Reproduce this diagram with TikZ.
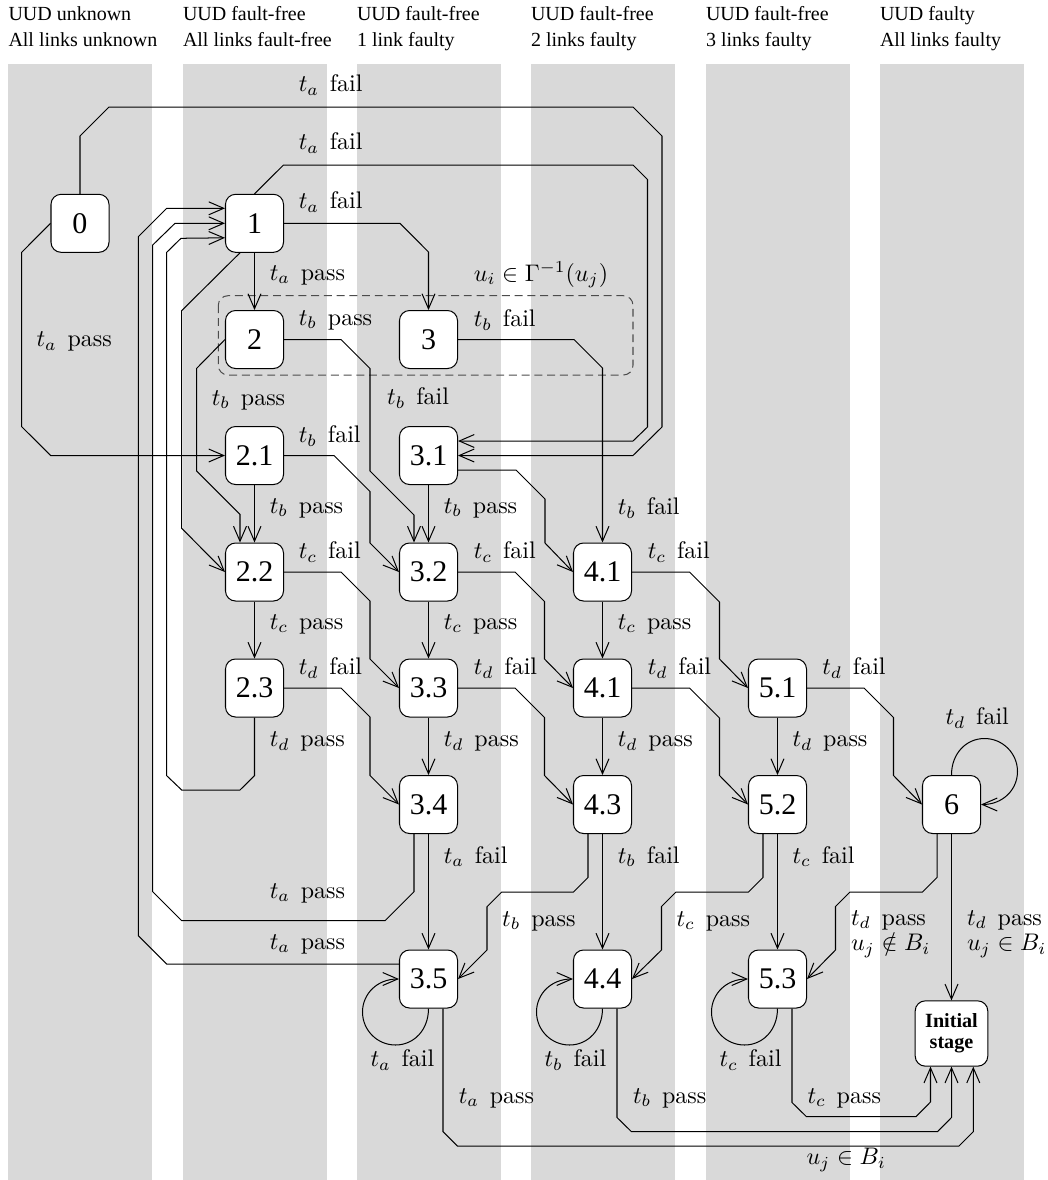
\documentclass[tikz,border=0pt]{standalone}
\usepackage{fontspec}
\newfontfamily\timesf{Liberation Serif}
\usetikzlibrary{arrows.meta,calc}
\newcommand\el[2]{$t_{#1}$\hspace{0.45em}#2}
\begin{document}
\begin{tikzpicture}[x=0.41667pt,y=-0.41667pt,line width=0.42pt,
  st/.style={draw,fill=white,rounded corners=4.2pt,minimum width=24.17pt,minimum height=24.17pt,inner sep=0pt,font=\timesf\fontsize{12.5}{15}\selectfont},
  lbl/.style={anchor=west,inner sep=0pt,font=\fontsize{10}{12}\selectfont},
  lbltwo/.style={anchor=west,inner sep=0pt,align=left,font=\fontsize{10}{10.8}\selectfont},
  hdr/.style={anchor=base west,inner sep=0pt,font=\timesf\fontsize{8.33}{10}\selectfont},
  arr/.style={-{Straight Barb[length=6.25pt,width=5.4pt]}},
  grp/.style={draw=black!70,dash pattern=on 3.3pt off 2pt,rounded corners=4pt}]
\useasboundingbox (0,0) rectangle (1048,1180);
\foreach \c in {80,254.5,428.5,602.5,777.5,951.5}
  \fill[black!15] (\c-72,64) rectangle (\c+72,1180);
% headers
\node[hdr] (h1a) at (8,20.5) {UUD unknown};
\node[hdr] (h1b) at (8,46.5) {All links unknown};
\node[hdr] (h2a) at (182.5,20.5) {UUD fault-free};
\node[hdr] (h2b) at (182.5,46.5) {All links fault-free};
\node[hdr] (h3a) at (356.5,20.5) {UUD fault-free};
\node[hdr] (h3b) at (356.5,46.5) {1 link faulty};
\node[hdr] (h4a) at (530.5,20.5) {UUD fault-free};
\node[hdr] (h4b) at (530.5,46.5) {2 links faulty};
\node[hdr] (h5a) at (705.5,20.5) {UUD fault-free};
\node[hdr] (h5b) at (705.5,46.5) {3 links faulty};
\node[hdr] (h6a) at (879.5,20.5) {UUD faulty};
\node[hdr] (h6b) at (879.5,46.5) {All links faulty};
% group box
\draw[grp] (218.3,295.7) rectangle (633,375);
% states
\node[st] (n0) at (80,223.3) {0};
\node[st] (n1) at (254.5,223.3) {1};
\node[st] (n2) at (254.5,339.5) {2};
\node[st] (n3) at (428.5,339.5) {3};
\node[st] (n21) at (254.5,455.5) {2.1};
\node[st] (n31) at (428.5,455.5) {3.1};
\node[st] (n22) at (254.5,572) {2.2};
\node[st] (n32) at (428.5,572) {3.2};
\node[st] (n41) at (602.5,572) {4.1};
\node[st] (n23) at (254.5,688) {2.3};
\node[st] (n33) at (428.5,688) {3.3};
\node[st] (n42) at (602.5,688) {4.1};
\node[st] (n51) at (777.5,688) {5.1};
\node[st] (n34) at (428.5,804.5) {3.4};
\node[st] (n43) at (602.5,804.5) {4.3};
\node[st] (n52) at (777.5,804.5) {5.2};
\node[st] (n6) at (951.5,804.5) {6};
\node[st] (n35) at (428.5,979) {3.5};
\node[st] (n44) at (602.5,979) {4.4};
\node[st] (n53) at (777.5,979) {5.3};
\node[st,minimum width=30.25pt,minimum height=27.2pt,align=center,
  font=\timesf\bfseries\fontsize{8.4}{8.6}\selectfont] (init) at (951.5,1033.5) {Initial\\stage};
% loops back to 3.1
\draw[arr] (n0.north) -- (80,136) -- (109,107) -- (633,107) -- (662,136) -- (662,427) -- (633,455.5) -- (n31.east);
\draw[arr] (n1.north) -- (283.5,165) -- (633,165) -- (647.5,179.5) -- (647.5,427) -- (633,441) -- ($(n31.east)+(0,-14.5)$);
% from 0 and 1
\draw[arr] (n1.east) -- (400,223.3) -- (428.5,252) -- (n3.north);
\draw[arr] (n1.south) -- (n2.north);
\draw[arr] (n0.west) -- (21.7,252.3) -- (21.7,426.7) -- (50.7,455.5) -- (n21.west);
\draw[arr] ($(n1.south)+(-14.5,0)$) -- (181.7,310.6) -- (181.7,528.3) -- (n22.west);
% from 2 and 3
\draw[arr] (n2.west) -- (196.7,368.3) -- (196.7,471) -- (240,514.3) -- ($(n22.north)+(-14.5,0)$);
\draw[arr] (n2.east) -- (341,339.5) -- (370,368.5) -- (370,471) -- (414,515) -- ($(n32.north)+(-14.5,0)$);
\draw[arr] (n3.east) -- (574,339.5) -- (602.5,368) -- (n41.north);
% row 2.1 / 3.1
\draw[arr] (n21.south) -- (n22.north);
\draw[arr] (n21.east) -- (334,455.5) -- (370,491.5) -- (370,543) -- (n32.west);
\draw[arr] (n31.south) -- (n32.north);
\draw[arr] ($(n31.east)+(0,14.5)$) -- (516,470) -- (545,499) -- (545,543) -- (n41.west);
% row 2.2 / 3.2 / 4.1
\draw[arr] (n22.south) -- (n23.north);
\draw[arr] (n22.east) -- (341,572) -- (370,601) -- (370,659) -- (n33.west);
\draw[arr] (n32.south) -- (n33.north);
\draw[arr] (n32.east) -- (515,572) -- (544.5,601.5) -- (544.5,659) -- (n42.west);
\draw[arr] (n41.south) -- (n42.north);
\draw[arr] (n41.east) -- (689.5,572) -- (719.5,602) -- (719.5,659) -- (n51.west);
% row 2.3 / 3.3 / 4.1 / 5.1
\draw[arr] (n23.east) -- (341,688) -- (370,717) -- (370,775.5) -- (n34.west);
\draw[arr] (n23.south) -- (254.5,775.7) -- (240,790) -- (181.7,790) -- (166.7,775.7) -- (166.7,252.3) -- (181,238.3) -- ($(n1.west)+(0,14.5)$);
\draw[arr] (n33.south) -- (n34.north);
\draw[arr] (n33.east) -- (515,688) -- (544.5,717.5) -- (544.5,775.5) -- (n43.west);
\draw[arr] (n42.south) -- (n43.north);
\draw[arr] (n42.east) -- (689.5,688) -- (719.5,718) -- (719.5,775.5) -- (n52.west);
\draw[arr] (n51.south) -- (n52.north);
\draw[arr] (n51.east) -- (864,688) -- (893.5,717.5) -- (893.5,775.5) -- (n6.west);
% row 3.4 / 4.3 / 5.2 / 6
\draw[arr] (n34.south) -- (n35.north);
\draw[arr] ($(n34.south)+(-14.5,0)$) -- (414,891.7) -- (385,920.7) -- (181.7,920.7) -- (152.7,891.7) -- (152.7,245) -- (175,223.3) -- (n1.west);
\draw[arr] ($(n35.west)+(0,-15)$) -- (166.7,964) -- (138.3,935.7) -- (138.3,236.7) -- (166.7,208.3) -- ($(n1.west)+(0,-15)$);
\draw[arr] (n43.south) -- (n44.north);
\draw[arr] ($(n43.south)+(-14.5,0)$) -- (588,877.5) -- (573.5,892) -- (501.7,892) -- (487,906.7) -- (487,950) -- (n35.east);
\draw[arr] (n52.south) -- (n53.north);
\draw[arr] ($(n52.south)+(-14.5,0)$) -- (763,877.5) -- (748.5,892) -- (676,892) -- (661.5,906.5) -- (661.5,950) -- (n44.east);
\draw[arr] ($(n6.south)+(-14.5,0)$) -- (937,877.5) -- (922.5,892) -- (850,892) -- (835.5,906.5) -- (835.5,950) -- (n53.east);
\draw[arr] (n6.south) -- (init.north);
% self loops
\foreach \n in {n35,n44,n53}
  \draw[arr] (\n.south)
    .. controls ($(\n)+(0,51.2)$) and ($(\n)+(-14.8,66)$) .. ($(\n)+(-33,66)$)
    .. controls ($(\n)+(-51.2,66)$) and ($(\n)+(-66,51.2)$) .. ($(\n)+(-66,33)$)
    .. controls ($(\n)+(-66,14.8)$) and ($(\n)+(-51.2,0)$) .. (\n.west);
\draw[arr] (n6.north)
    .. controls ($(n6)+(0,-51.2)$) and ($(n6)+(14.8,-66)$) .. ($(n6)+(33,-66)$)
    .. controls ($(n6)+(51.2,-66)$) and ($(n6)+(66,-51.2)$) .. ($(n6)+(66,-33)$)
    .. controls ($(n6)+(66,-14.8)$) and ($(n6)+(51.2,0)$) .. (n6.east);
% to initial stage
\draw[arr] ($(n35.south)+(14.5,0)$) -- (443,1131.7) -- (457.3,1146) -- (959,1146) -- (973.3,1131.7) -- ($(init.south)+(21.8,0)$);
\draw[arr] ($(n44.south)+(14.5,0)$) -- (617,1117.5) -- (631.5,1131.7) -- (937.5,1131.7) -- (951.5,1117.5) -- (init.south);
\draw[arr] ($(n53.south)+(14.5,0)$) -- (792,1102.5) -- (806.5,1116.7) -- (916,1116.7) -- (930.5,1102) -- ($(init.south)+(-21,0)$);
% labels
\node[lbl] (l01) at (298.3,85) {\el{a}{fail}};
\node[lbl] (l02) at (298.3,143) {\el{a}{fail}};
\node[lbl] (l03) at (298.3,202) {\el{a}{fail}};
\node[lbl] (l04) at (269.3,275) {\el{a}{pass}};
\node[lbl] (l05) at (473.3,275) {$u_i\in\Gamma^{-1}(u_j)$};
\node[lbl] (l06) at (36,341.7) {\el{a}{pass}};
\node[lbl] (l07) at (298.3,320) {\el{b}{pass}};
\node[lbl] (l08) at (473.3,320) {\el{b}{fail}};
\node[lbl] (l09) at (211.3,400) {\el{b}{pass}};
\node[lbl] (l10) at (386.7,398.3) {\el{b}{fail}};
\node[lbl] (l11) at (298.3,436) {\el{b}{fail}};
\node[lbl] (l12) at (269.3,508) {\el{b}{pass}};
\node[lbl] (l13) at (443.3,508) {\el{b}{pass}};
\node[lbl] (l14) at (617.3,508) {\el{b}{fail}};
\node[lbl] (l15) at (298.3,552) {\el{c}{fail}};
\node[lbl] (l16) at (473.3,552) {\el{c}{fail}};
\node[lbl] (l17) at (647.3,552) {\el{c}{fail}};
\node[lbl] (l18) at (269.3,624) {\el{c}{pass}};
\node[lbl] (l19) at (443.3,624) {\el{c}{pass}};
\node[lbl] (l20) at (617.3,624) {\el{c}{pass}};
\node[lbl] (l21) at (298.3,668) {\el{d}{fail}};
\node[lbl] (l22) at (473.3,668) {\el{d}{fail}};
\node[lbl] (l23) at (647.3,668) {\el{d}{fail}};
\node[lbl] (l24) at (821.8,668) {\el{d}{fail}};
\node[lbl] (l25) at (269.3,741.7) {\el{d}{pass}};
\node[lbl] (l26) at (443.3,741.7) {\el{d}{pass}};
\node[lbl] (l27) at (617.3,741.7) {\el{d}{pass}};
\node[lbl] (l28) at (792,741.7) {\el{d}{pass}};
\node[lbl] (l29) at (945,718) {\el{d}{fail}};
\node[lbl] (l30) at (443.3,856.7) {\el{a}{fail}};
\node[lbl] (l31) at (617.3,856.7) {\el{b}{fail}};
\node[lbl] (l32) at (792,856.7) {\el{c}{fail}};
\node[lbl] (l33) at (269.3,893.3) {\el{a}{pass}};
\node[lbl] (l34) at (269.3,944) {\el{a}{pass}};
\node[lbl] (l35) at (501.7,921) {\el{b}{pass}};
\node[lbl] (l36) at (676,921) {\el{c}{pass}};
\node[lbltwo] (l37) at (850.5,934) {\el{d}{pass}\\$u_j\notin B_i$};
\node[lbltwo] (l39) at (966.5,934) {\el{d}{pass}\\$u_j\in B_i$};
\node[lbl] (l41) at (370,1060) {\el{a}{fail}};
\node[lbl] (l42) at (544,1060) {\el{b}{fail}};
\node[lbl] (l43) at (719,1060) {\el{c}{fail}};
\node[lbl] (l44) at (458.3,1098.3) {\el{a}{pass}};
\node[lbl] (l45) at (632.5,1098.3) {\el{b}{pass}};
\node[lbl] (l46) at (807,1098.3) {\el{c}{pass}};
\node[lbl] (l47) at (806,1160) {$u_j\in B_i$};
\end{tikzpicture}
\end{document}
